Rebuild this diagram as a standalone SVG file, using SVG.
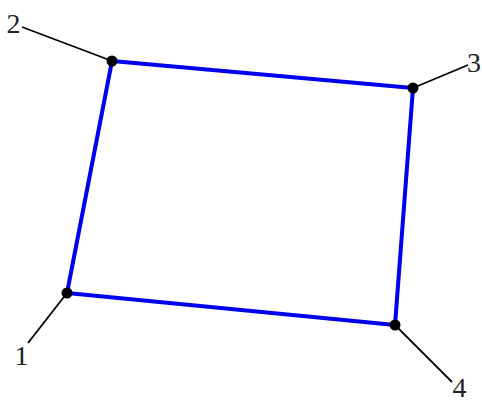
<svg xmlns="http://www.w3.org/2000/svg" width="482" height="403" viewBox="0 0 482 403">
<style>
.edge{stroke:#0000ee;stroke-width:4;fill:none;stroke-linecap:round}
.lead{stroke:#000;stroke-width:1.8;fill:none}
.dot{fill:#000}
.lbl{font-family:"Liberation Serif","Times New Roman",serif;font-size:28px;fill:#222;text-anchor:middle}
</style>
<rect width="482" height="403" fill="#fff"/>
<g id="connectors">
<line class="edge" x1="67" y1="293" x2="112" y2="61"/>
<line class="edge" x1="112" y1="61" x2="413" y2="88"/>
<line class="edge" x1="413" y1="88" x2="395" y2="325"/>
<line class="edge" x1="395" y1="325" x2="67" y2="293"/>
<line class="lead" x1="22" y1="27" x2="112" y2="61"/>
<line class="lead" x1="468" y1="65" x2="413" y2="88"/>
<line class="lead" x1="28" y1="343" x2="67" y2="293"/>
<line class="lead" x1="452" y1="382" x2="395" y2="325"/>
</g>
<g id="node1"><circle class="dot" cx="67" cy="293" r="5.5"/><text class="lbl" x="21.5" y="365">1</text></g>
<g id="node2"><circle class="dot" cx="112" cy="61" r="5.5"/><text class="lbl" x="13.5" y="33">2</text></g>
<g id="node3"><circle class="dot" cx="413" cy="88" r="5.5"/><text class="lbl" x="474" y="72">3</text></g>
<g id="node4"><circle class="dot" cx="395" cy="325" r="5.5"/><text class="lbl" x="459.5" y="397">4</text></g>
</svg>
